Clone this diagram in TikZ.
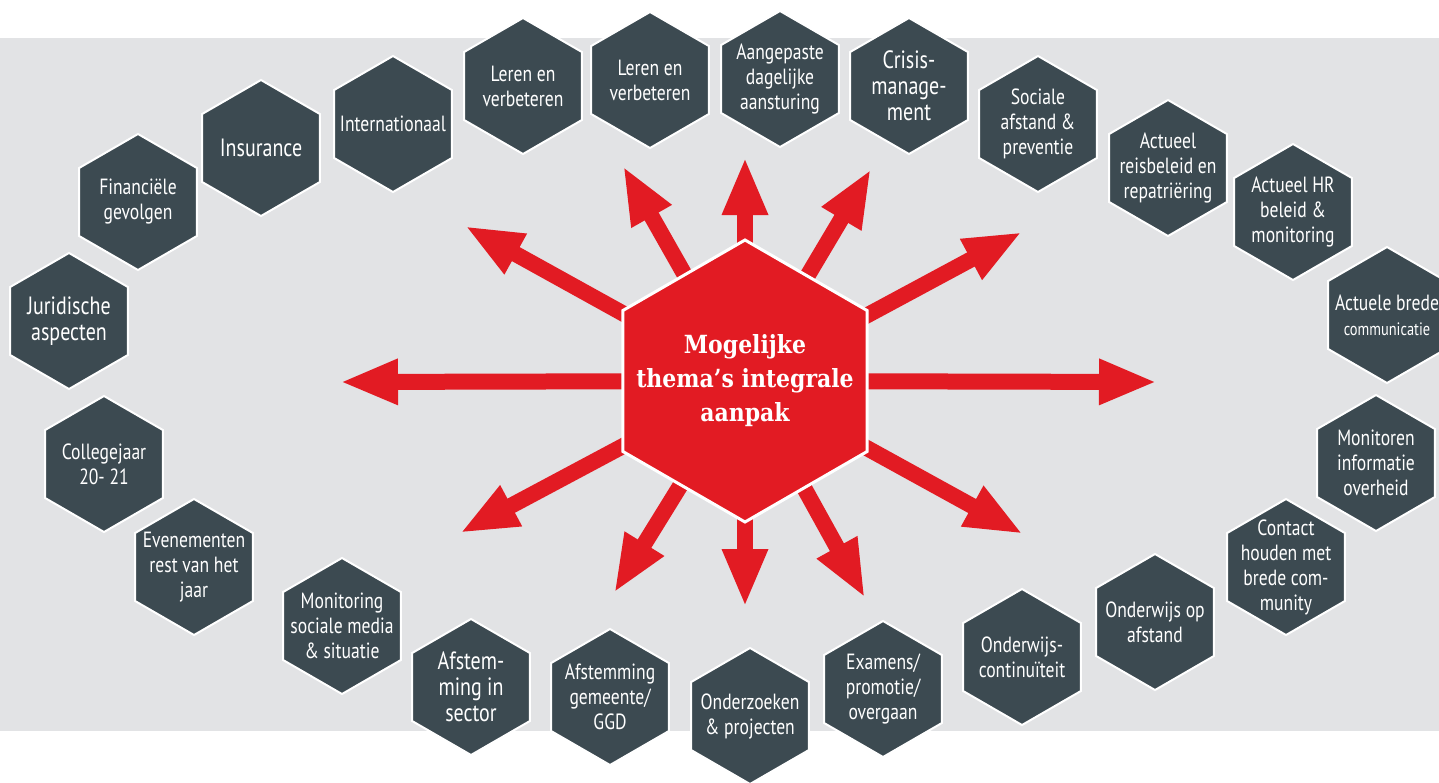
\documentclass[tikz,border=0pt]{standalone}
\usepackage{fontspec}
\newfontfamily\hexfont[FakeStretch=0.8]{PT Sans}
\newfontfamily\corefont[FakeStretch=0.88]{DejaVu Serif}
\usetikzlibrary{shapes.geometric, arrows.meta}
\definecolor{bandgray}{HTML}{E2E3E5}
\definecolor{slate}{HTML}{3C4A51}
\definecolor{alarmred}{HTML}{E21B23}

\begin{document}
\begin{tikzpicture}[x=1pt, y=-1pt,
	hexa/.style={regular polygon, regular polygon sides=6, shape border rotate=30, minimum size=136pt, inner sep=0pt, fill=slate, draw=white, line width=2pt},
	hextxt/.style={text=white, align=center, inner sep=0pt, font=\hexfont\fontsize{22}{25}\selectfont},
	hexbig/.style={hextxt, font=\hexfont\fontsize{25}{26}\selectfont},
	coretxt/.style={text=white, align=center, inner sep=0pt, font=\corefont\bfseries\fontsize{25}{34}\selectfont},
	spoke/.style={draw=alarmred, line width=16pt, -{Triangle[length=58pt, width=42pt]}}]
	
	\useasboundingbox (0,0) rectangle (1439,782);
	
	% grey band
	\fill[bandgray] (0,38) rectangle (1439,731);
	
	% arrows out of the hub
	\coordinate (hub) at (745,381);
	\foreach \tx/\ty [count=\k] in {1157/382, 1022/232, 871/169, 745/157, 623/166, 465/226, 340/382, 460/533, 614/593, 745/607, 865/598, 1023/534}
	{
		\coordinate (tip\k) at (\tx,\ty);
		\draw[spoke] (hub) -- (tip\k);
	}
	
	% central theme
	\node[hexa, fill=alarmred, line width=3pt, minimum size=282pt, label={[coretxt]center:Mogelijke\\thema’s integrale\\aanpak}] (core) at (hub) {};
	
	% left arc
	\node[hexa, label={[hexbig]center:Juridische\\aspecten}] (jurid) at (69,321) {};
	\node[hexa, label={[hextxt]center:Financiële\\gevolgen}] (financ) at (138,202) {};
	\node[hexa, label={[hexbig]center:Insurance}] (insur) at (261,148) {};
	\node[hexa, label={[hextxt]center:Internationaal}] (intern) at (393,124) {};
	
	% top row
	\node[hexa, label={[hextxt]center:Leren en\\verbeteren}] (leren1) at (523,86) {};
	\node[hexa, label={[hextxt]center:Leren en\\verbeteren}] (leren2) at (650,80) {};
	\node[hexa, label={[hextxt]center:Aangepaste\\dagelijke\\aansturing}] (aanst) at (780,79) {};
	\node[hexa, label={[hexbig]center:Crisis-\\manage-\\ment}] (crisis) at (909,86) {};
	
	% right arc
	\node[hexa, label={[hextxt]center:Sociale\\afstand \&\\preventie}] (sociaal) at (1038,124) {};
	\node[hexa, label={[hextxt]center:Actueel\\reisbeleid en\\repatriëring}] (reis) at (1168,168) {};
	\node[hexa, label={[hextxt]center:Actueel HR\\beleid \&\\monitoring}] (hrbel) at (1293,212) {};
	\node[hexa, label={[hextxt]center:Actuele brede\\{\fontsize{18}{20}\selectfont communicatie}}] (commun) at (1387,315) {};
	\node[hexa, label={[hextxt]center:Monitoren\\informatie\\overheid}] (overh) at (1376,463) {};
	\node[hexa, label={[hextxt]center:Contact\\houden met\\brede com-\\munity}] (contact) at (1286,567) {};
	
	% bottom row
	\node[hexa, label={[hextxt]center:Onderwijs op\\afstand}] (opafst) at (1155,622) {};
	\node[hexa, label={[hextxt]center:Onderwijs-\\continuïteit}] (contin) at (1022,657) {};
	\node[hexa, label={[hextxt]center:Examens/\\promotie/\\overgaan}] (examen) at (883,689) {};
	\node[hexa, label={[hextxt]center:Onderzoeken\\\& projecten}] (onderz) at (750,716) {};
	\node[hexa, label={[hextxt]center:Afstemming\\gemeente/\\GGD}] (ggd) at (610,697) {};
	\node[hexa, label={[hexbig]center:Afstem-\\ming in\\sector}] (sector) at (471,687) {};
	
	% lower left arc
	\node[hexa, label={[hextxt]center:Monitoring\\sociale media\\\& situatie}] (media) at (342,626) {};
	\node[hexa, label={[hextxt]center:Evenementen\\rest van het\\jaar}] (evenem) at (194,567) {};
	\node[hexa, label={[hextxt]center:Collegejaar\\20- 21}] (college) at (104,464) {};
\end{tikzpicture}
\end{document}
